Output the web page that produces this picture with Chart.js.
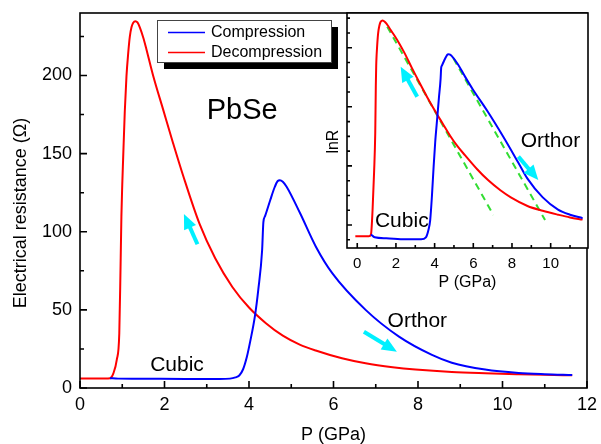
<!doctype html>
<html>
<head>
<meta charset="utf-8">
<title>PbSe - Electrical resistance</title>
<style>
  body { margin: 0; background: #fff; overflow: hidden; }
  #wrap { position: relative; width: 601px; height: 444px; }
  #main { position: absolute; left: 0; top: 0; }
  #inset { position: absolute; left: 300px; top: 0; }
</style>
</head>

<body>
<div id="wrap">
  <canvas id="main" width="601" height="444"></canvas>
  <canvas id="inset" width="290" height="300"></canvas>
</div>
<script src="https://cdn.jsdelivr.net/npm/chart.js@4.4.1/dist/chart.umd.min.js"></script>
<script>
  // pressure (GPa) / resistance (Ohm)
  const decompP = [-0.1, 0.3, 0.6, 0.71, 0.79, 0.87, 0.93, 0.96, 0.98, 1.0, 1.02, 1.06, 1.10, 1.14, 1.18, 1.22, 1.26, 1.31, 1.36, 1.42, 1.5, 1.57, 1.73, 1.97, 2.2, 2.44, 2.83, 3.2, 3.61, 4.0, 4.4, 4.8, 5.2, 5.58, 6.2, 6.76, 7.4, 7.94, 8.8, 9.59, 10.38, 11.0, 11.65];
  const decompR = [6.1, 6.1, 6.1, 6.3, 9.4, 18, 35, 78, 110, 130, 146, 177, 199.6, 214, 225, 231, 233.8, 234.8, 234, 230.5, 224, 217, 200, 178, 157, 136, 105, 83, 64.5, 51.5, 41.5, 33.5, 27.8, 24, 19, 15.8, 13.3, 11.8, 10.2, 9.4, 8.8, 8.4, 8.1];
  const compP = [0.71, 0.9, 1.5, 2.5, 3.3, 3.55, 3.68, 3.77, 3.86, 3.95, 4.03, 4.14, 4.22, 4.31, 4.34, 4.38, 4.5, 4.6, 4.68, 4.73, 4.8, 4.89, 5.21, 5.58, 5.97, 6.76, 7.55, 8.33, 8.8, 9.59, 10.38, 11.0, 11.65];
  const compR = [6.3, 6.0, 5.9, 5.8, 5.8, 6.0, 6.8, 8.0, 12, 20, 30, 46, 63, 88, 106, 110, 120, 128, 132.5, 133, 132, 128.8, 111.8, 90.6, 73.5, 50, 32.9, 21.2, 16.2, 11.8, 9.6, 8.8, 8.3];
  // linear fits of lnR in the inset
  const fit1P = [1.55, 7.04];
  const fit1R = [211.7, 8.75];
  const fit2P = [4.97, 9.71];
  const fit2R = [124, 8.04];

  const mainXTicks = [0, 2, 4, 6, 8, 10, 12];
  const mainXMinor = [1, 3, 5, 7, 9, 11];
  const mainYTicks = [0, 50, 100, 150, 200];
  const mainYMinor = [25, 75, 125, 175, 225];
  const insetXTicks = [0, 2, 4, 6, 8, 10];
  const insetXMinor = [1, 3, 5, 7, 9, 11];
  const insetYTicks = [7.389, 20.09, 54.6, 148.4];   // e^2 .. e^5
  const insetYMinorLn = [1.75, 2.25, 2.5, 2.75, 3.25, 3.5, 3.75, 4.25, 4.5, 4.75, 5.25, 5.5];

  Chart.defaults.font.family = '"Liberation Sans", Arial, sans-serif';
  Chart.defaults.color = '#000';

  const toXY = (xs, ys) => xs.map((x, i) => ({x: x, y: ys[i]}));

  // keep the plot box where the layout padding puts it
  const fixY = w => s => { s.width = w; s.paddingTop = 0; s.paddingBottom = 0; };
  const fixX = h => s => { s.height = h; s.paddingLeft = 0; s.paddingRight = 0; };

  function arrow(ctx, x0, y0, x1, y1) {
    const ang = Math.atan2(y1 - y0, x1 - x0);
    const len = Math.hypot(x1 - x0, y1 - y0);
    ctx.save();
    ctx.translate(x0, y0);
    ctx.rotate(ang);
    ctx.fillStyle = '#00f0ff';
    ctx.fillRect(0, -2, len - 12, 4);
    ctx.beginPath();
    ctx.moveTo(len, 0);
    ctx.lineTo(len - 15, -6.5);
    ctx.lineTo(len - 15, 6.5);
    ctx.closePath();
    ctx.fill();
    ctx.restore();
  }

  // white plot area, box frame and inward ticks
  const frame = {
    id: 'frame',
    beforeDraw(chart) {
      const {ctx, chartArea: a} = chart;
      ctx.save();
      ctx.fillStyle = '#fff';
      ctx.fillRect(a.left, a.top, a.width, a.height);
      ctx.restore();
    },
    afterDraw(chart, args, o) {
      const {ctx, chartArea: a, scales: {x, y}} = chart;
      ctx.save();
      ctx.strokeStyle = '#000';
      ctx.lineWidth = 1.6;
      ctx.beginPath();
      const xt = (vals, l) => vals.forEach(v => { const p = x.getPixelForValue(v); ctx.moveTo(p, a.bottom); ctx.lineTo(p, a.bottom - l); });
      const yt = (vals, l) => vals.forEach(v => { const p = y.getPixelForValue(v); ctx.moveTo(a.left, p); ctx.lineTo(a.left + l, p); });
      xt(o.xMajor, o.major); xt(o.xMinor, o.minor);
      yt(o.yMajor, o.major); yt(o.yMinor, o.minor);
      ctx.stroke();
      ctx.strokeRect(a.left, a.top, a.width, a.height);
      ctx.restore();
    }
  };

  // arrows and text notes, placed in data coordinates
  const notes = {
    id: 'notes',
    afterDatasetsDraw(chart, args, o) {
      const {ctx, scales: {x, y}} = chart;
      o.arrows.forEach(r => arrow(ctx, x.getPixelForValue(r[0]), y.getPixelForValue(r[1]), x.getPixelForValue(r[2]), y.getPixelForValue(r[3])));
      ctx.save();
      ctx.fillStyle = '#000';
      ctx.textAlign = 'left';
      ctx.textBaseline = 'alphabetic';
      o.texts.forEach(t => {
        ctx.font = t[3] + 'px "Liberation Sans", Arial, sans-serif';
        ctx.fillText(t[0], x.getPixelForValue(t[1]), y.getPixelForValue(t[2]));
      });
      ctx.restore();
    }
  };

  const boxLegend = {
    id: 'boxLegend',
    afterDraw(chart) {
      const ctx = chart.ctx;
      const bx = 157, by = 20, bw = 174, bh = 42;
      ctx.save();
      ctx.fillStyle = '#000';
      ctx.fillRect(bx + 7, by + 7, bw, bh);
      ctx.fillStyle = '#fff';
      ctx.fillRect(bx, by, bw, bh);
      ctx.strokeStyle = '#444';
      ctx.lineWidth = 1;
      ctx.strokeRect(bx + 0.5, by + 0.5, bw, bh);
      ctx.font = '16px "Liberation Sans", Arial, sans-serif';
      ctx.textBaseline = 'middle';
      chart.data.datasets.forEach((ds, i) => {
        const ly = 32.5 + i * 20;
        ctx.strokeStyle = ds.borderColor;
        ctx.lineWidth = 1.5;
        ctx.beginPath();
        ctx.moveTo(168, ly);
        ctx.lineTo(205, ly);
        ctx.stroke();
        ctx.fillStyle = '#000';
        ctx.fillText(ds.label, 211, ly);
      });
      ctx.restore();
    }
  };

  const curve = (label, xs, ys, color) => ({
    label: label,
    data: toXY(xs, ys),
    borderColor: color,
    borderWidth: 2,
    pointRadius: 0,
    cubicInterpolationMode: 'monotone',
    fill: false
  });

  new Chart(document.getElementById('main'), {
    type: 'line',
    data: {
      datasets: [
        curve('Compression', compP, compR, '#0000ff'),
        curve('Decompression', decompP, decompR, '#ff0000')
      ]
    },
    options: {
      responsive: false,
      animation: false,
      layout: {padding: {top: 13, right: 14, left: 0, bottom: 0}},
      plugins: {
        legend: {display: false},
        tooltip: {enabled: false},
        frame: {xMajor: mainXTicks, xMinor: mainXMinor, yMajor: mainYTicks, yMinor: mainYMinor, major: 7, minor: 4},
        notes: {
          arrows: [[2.78, 92, 2.46, 111.4], [6.72, 36, 7.50, 23.2]],
          texts: [['PbSe', 3.0, 172, 29], ['Cubic', 1.66, 10.9, 21], ['Orthor', 7.28, 39.2, 21]]
        }
      },
      scales: {
        x: {
          type: 'linear', min: 0, max: 12,
          afterBuildTicks: s => { s.ticks = mainXTicks.map(v => ({value: v})); },
          afterFit: fixX(56),
          grid: {display: false, drawTicks: false},
          border: {display: false},
          ticks: {font: {size: 18}, padding: 6, maxRotation: 0, autoSkip: false},
          title: {display: true, text: 'P (GPa)', font: {size: 18, lineHeight: 1}, padding: {top: 0, bottom: 0}}
        },
        y: {
          type: 'linear', min: 0, max: 240,
          afterBuildTicks: s => { s.ticks = mainYTicks.map(v => ({value: v})); },
          afterFit: fixY(80),
          grid: {display: false, drawTicks: false},
          border: {display: false},
          ticks: {font: {size: 18}, padding: 8},
          title: {display: true, text: 'Electrical resistance (\u03a9)\u00a0\u00a0\u00a0\u00a0\u00a0', font: {size: 18}, padding: {top: 10, bottom: 0}}
        }
      }
    },
    plugins: [frame, notes, boxLegend]
  });

  new Chart(document.getElementById('inset'), {
    type: 'line',
    data: {
      datasets: [
        curve('Compression', compP, compR, '#0000ff'),
        curve('Decompression', decompP, decompR, '#ff0000'),
        {data: toXY(fit1P, fit1R), borderColor: '#33dd33', borderWidth: 2, borderDash: [7, 5], pointRadius: 0},
        {data: toXY(fit2P, fit2R), borderColor: '#33dd33', borderWidth: 2, borderDash: [7, 5], pointRadius: 0}
      ]
    },
    options: {
      responsive: false,
      animation: false,
      layout: {padding: {top: 13, right: 2, left: 0, bottom: 0}},
      plugins: {
        legend: {display: false},
        tooltip: {enabled: false},
        frame: {xMajor: insetXTicks, xMinor: insetXMinor, yMajor: insetYTicks, yMinor: insetYMinorLn.map(Math.exp), major: 5, minor: 3},
        notes: {
          arrows: [[3.10, 64.8, 2.245, 107.6], [8.33, 23.5, 9.36, 15.8]],
          texts: [['Orthor', 8.45, 27.5, 21], ['Cubic', 0.915, 7.11, 21]]
        }
      },
      scales: {
        x: {
          type: 'linear', min: -0.53, max: 11.93,
          afterBuildTicks: s => { s.ticks = insetXTicks.map(v => ({value: v})); },
          afterFit: fixX(52),
          grid: {display: false, drawTicks: false},
          border: {display: false},
          ticks: {font: {size: 15}, padding: 7, maxRotation: 0, autoSkip: false},
          title: {display: true, text: 'P (GPa)', font: {size: 16, lineHeight: 1}, padding: {top: 0, bottom: 9}}
        },
        y: {
          type: 'logarithmic', min: 5.01, max: 267,
          afterBuildTicks: s => { s.ticks = insetYTicks.map(v => ({value: v})); },
          afterFit: fixY(47),
          grid: {display: false, drawTicks: false},
          border: {display: false},
          ticks: {display: false},
          title: {display: true, text: 'lnR\u00a0\u00a0\u00a0\u00a0\u00a0', font: {size: 16}, padding: {top: 24, bottom: 0}}
        }
      }
    },
    plugins: [frame, notes]
  });
</script>
</body>
</html>
